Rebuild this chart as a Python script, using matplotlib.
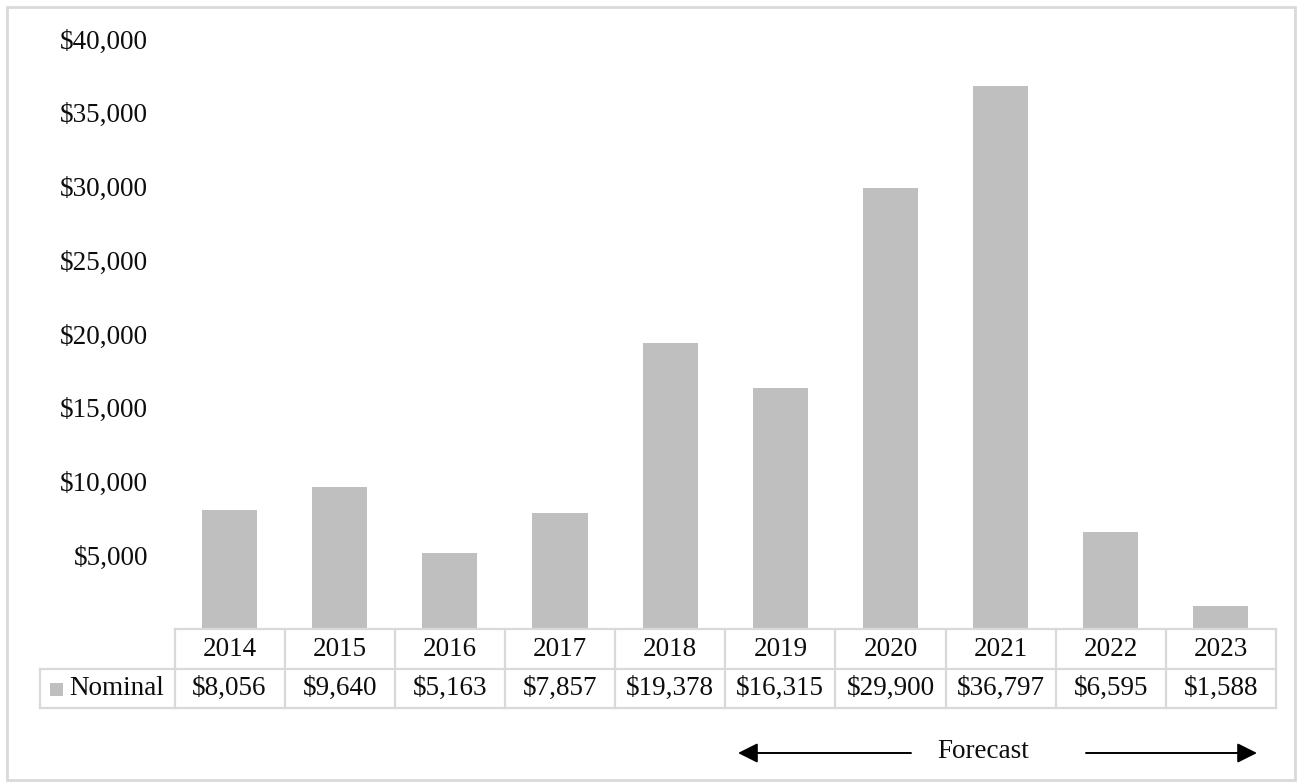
import matplotlib
matplotlib.use("Agg")
import matplotlib.pyplot as plt
import matplotlib.transforms as mtransforms
from matplotlib.lines import Line2D
from matplotlib.patches import Rectangle, FancyArrowPatch

# ---- data ----
years = ['2014', '2015', '2016', '2017', '2018', '2019', '2020', '2021', '2022', '2023']
nominal = [8056, 9640, 5163, 7857, 19378, 16315, 29900, 36797, 6595, 1588]
series_name = 'Nominal'
y_ticks = [5000, 10000, 15000, 20000, 25000, 30000, 35000, 40000]
forecast_label = 'Forecast'

plt.rcParams['font.family'] = ['Liberation Serif', 'DejaVu Serif']
TEXT = '#0d0d0d'
GRID = '#d9d9d9'
BAR = '#bfbfbf'
FS = 19.5

W, H = 1300, 784
fig = plt.figure(figsize=(W / 100, H / 100), dpi=100)


def fx(px):
    return px / W


def fy(py):
    return 1 - py / H


# plot area
left_px, right_px, top_px, bottom_px = 174.5, 1276, 39, 629
ax = fig.add_axes([fx(left_px), fy(bottom_px), fx(right_px) - fx(left_px), fy(top_px) - fy(bottom_px)])
xs = list(range(len(years)))
ax.bar(xs, nominal, width=0.5, color=BAR)
ax.set_xlim(-0.5, len(years) - 0.5)
ax.set_ylim(0, 40000)
ax.set_yticks(y_ticks)
ax.set_yticklabels([f'${v:,}' for v in y_ticks], fontsize=FS, color=TEXT)
ax.tick_params(axis='y', length=0, pad=19)
ax.set_xticks([])
for s in ax.spines.values():
    s.set_visible(False)

# ---- data table below the axis ----
blend = mtransforms.blended_transform_factory(ax.transData, fig.transFigure)
row_top, row_mid, row_bot = fy(629), fy(669), fy(708)
label_left = fx(40)
lw = 1.6


def add_line(xd, yd, transform):
    fig.add_artist(Line2D(xd, yd, transform=transform, color=GRID, lw=lw, zorder=1))


# column separators
for i in range(len(years) + 1):
    add_line([i - 0.5, i - 0.5], [row_top, row_bot], blend)
add_line([-0.5, len(years) - 0.5], [row_top, row_top], blend)
add_line([label_left, fx(right_px)], [row_mid, row_mid], fig.transFigure)
add_line([label_left, fx(right_px)], [row_bot, row_bot], fig.transFigure)
add_line([label_left, label_left], [row_mid, row_bot], fig.transFigure)

for i, (yr, v) in enumerate(zip(years, nominal)):
    fig.text(i, (row_top + row_mid) / 2, yr, transform=blend, ha='center', va='center',
             fontsize=FS, color=TEXT)
    fig.text(i, (row_mid + row_bot) / 2, f'${v:,}', transform=blend, ha='center', va='center',
             fontsize=FS, color=TEXT)

# legend key in the row header
fig.add_artist(Rectangle((fx(50), fy(696)), fx(13), 13 / H, transform=fig.transFigure,
                         facecolor=BAR, edgecolor='none'))
fig.text(fx(69), (row_mid + row_bot) / 2, series_name, ha='left', va='center',
         fontsize=FS, color=TEXT)

# ---- forecast marker ----
ay = fy(753)
fig.text(fx(983), fy(751), forecast_label, ha='center', va='center', fontsize=FS, color=TEXT)
for start, end in [(911, 738), (1086, 1257)]:
    fig.add_artist(FancyArrowPatch((fx(start), ay), (fx(end), ay), transform=fig.transFigure,
                                   arrowstyle='-|>,head_length=8,head_width=4',
                                   mutation_scale=1.5, color='#000000', lw=1.4,
                                   shrinkA=0, shrinkB=0))

# outer frame
fig.add_artist(Rectangle((fx(7), fy(780)), fx(1295) - fx(7), fy(7) - fy(780),
                         transform=fig.transFigure, fill=False, edgecolor=GRID, lw=2))

fig.savefig('out.png', dpi=100, facecolor='white')
